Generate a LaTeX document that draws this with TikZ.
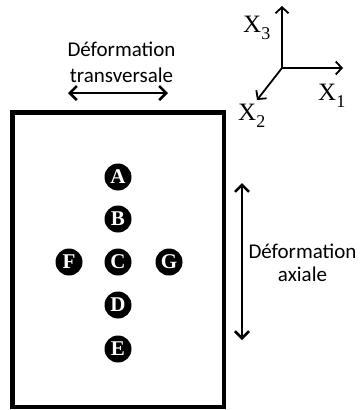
\documentclass[tikz,border=0pt]{standalone}
\usepackage{fontspec}
\newfontfamily\calibri{Carlito}
\newfontfamily\cambria{Liberation Serif}
\usepackage{tikz}
\usetikzlibrary{arrows.meta}

\begin{document}
\begin{tikzpicture}[x=1pt, y=-1pt,
    jauge/.style={circle, fill=black, text=white, inner sep=0pt, minimum size=27pt,
        font=\cambria\fontsize{21}{21}\selectfont\bfseries},
    fleche/.style={line width=2.5pt,
        {Straight Barb[length=7pt,width=14pt]}-{Straight Barb[length=7pt,width=14pt]}},
    axe/.style={line width=1.8pt, -{Straight Barb[length=6pt,width=13pt]}},
    legende/.style={font=\calibri, align=center, anchor=south, inner sep=0pt},
    axelabel/.style={font=\cambria\fontsize{25}{25}\selectfont, anchor=base west, inner sep=0pt}]
    \useasboundingbox (0,0) rectangle (360,410);
    % Draw specimen
    \draw[line width=4.5pt] (12.5,112.5) rectangle (224,407);
    % Measurement points
    \node[jauge] (A) at (118,177) {A};
    \node[jauge] (B) at (118,219) {B};
    \node[jauge] (C) at (118,262) {C};
    \node[jauge] (D) at (118,305) {D};
    \node[jauge] (E) at (118,349) {E};
    \node[jauge] (F) at (69,262) {F};
    \node[jauge] (G) at (169,262) {G};
    % Transverse strain
    \coordinate (tg) at (68,93);
    \coordinate (td) at (168,93);
    \draw[fleche] (tg) -- (td);
    \node[legende, font=\calibri\fontsize{21}{26.6}\selectfont] (transv) at (121.5,83.3) {Déformation\\transversale};
    % Axial strain
    \coordinate (ah) at (242,183);
    \coordinate (ab) at (242,340);
    \draw[fleche] (ah) -- (ab);
    \node[legende, font=\calibri\fontsize{21}{22.4}\selectfont] (axial) at (302.5,281.7) {Déformation\\axiale};
    % Draw axes
    \coordinate (O) at (282,68);
    \coordinate (x1) at (343,68);
    \coordinate (x2) at (257,100);
    \coordinate (x3) at (282,6);
    \draw[axe] (O) -- (x1);
    \draw[axe] (O) -- (x2);
    \draw[axe] (O) -- (x3);
    \node[axelabel] (lx1) at (318,100) {X\raisebox{-7pt}{\fontsize{18}{18}\selectfont 1}};
    \node[axelabel] (lx2) at (238,120) {X\raisebox{-7pt}{\fontsize{18}{18}\selectfont 2}};
    \node[axelabel] (lx3) at (243,32) {X\raisebox{-7pt}{\fontsize{18}{18}\selectfont 3}};
\end{tikzpicture}
\end{document}
